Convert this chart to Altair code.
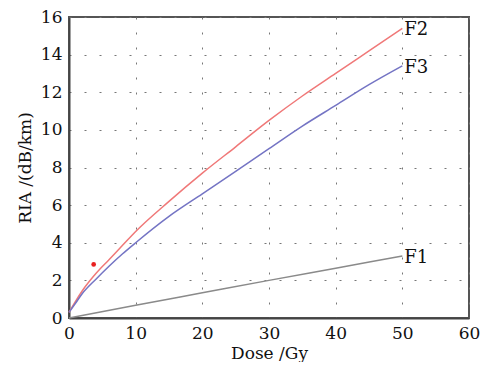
import altair as alt
import pandas as pd

dose_f2 = [0, 1, 2, 4, 6, 8, 10, 15, 20, 25, 30, 35, 40, 45, 50]
ria_f2 = [0.3, 0.9, 1.45, 2.35, 3.1, 3.85, 4.6, 6.2, 7.7, 9.1, 10.5, 11.8, 13.0, 14.2, 15.4]
dose_f3 = [0, 1, 2, 4, 6, 8, 10, 15, 20, 25, 30, 35, 40, 45, 50]
ria_f3 = [0.3, 0.8, 1.3, 2.05, 2.75, 3.4, 4.0, 5.4, 6.6, 7.8, 9.0, 10.2, 11.3, 12.4, 13.4]
dose_f1 = [0, 10, 20, 30, 40, 50]
ria_f1 = [0.0, 0.68, 1.34, 2.0, 2.65, 3.3]
series_names = ["F1", "F2", "F3"]
series_colors = ["#8a8a8a", "#f07878", "#7474c4"]
marker_dose = [3.7]
marker_ria = [2.85]
x_ticks = [0, 10, 20, 30, 40, 50, 60]
y_ticks = [0, 2, 4, 6, 8, 10, 12, 14, 16]

rows = []
for name, xs, ys in [("F1", dose_f1, ria_f1), ("F2", dose_f2, ria_f2), ("F3", dose_f3, ria_f3)]:
    for x, y in zip(xs, ys):
        rows.append({"series": name, "dose": x, "ria": y})
df = pd.DataFrame(rows)
ends = df.loc[df.groupby("series")["dose"].idxmax()].reset_index(drop=True)
marker_df = pd.DataFrame({"dose": marker_dose, "ria": marker_ria})

FONT = "DejaVu Serif"

xscale = alt.Scale(domain=[0, 60], nice=False)
yscale = alt.Scale(domain=[0, 16], nice=False)
xaxis = alt.Axis(values=x_ticks, title="Dose /Gy", format="d",
                 labelFlush=False, labelOverlap=False)
yaxis = alt.Axis(values=y_ticks, title="RIA /(dB/km)", format="d",
                 labelFlush=False, labelOverlap=False)
color = alt.Color("series:N", scale=alt.Scale(domain=series_names, range=series_colors), legend=None)

X = alt.X("dose:Q", scale=xscale, axis=xaxis)
Y = alt.Y("ria:Q", scale=yscale, axis=yaxis)

lines = alt.Chart(df).mark_line(strokeWidth=1.5, interpolate="monotone").encode(
    x=X, y=Y, color=color, detail="series:N",
)

labels = alt.Chart(ends).mark_text(
    align="left", baseline="middle", dx=2, dy=2, font=FONT, fontSize=18, color="#111"
).encode(x=X, y=Y, text="series:N")

marker = alt.Chart(marker_df).mark_point(filled=True, size=22, color="#e82020", opacity=1).encode(
    x=X, y=Y,
)

chart = alt.layer(lines, labels, marker).properties(
    width=400,
    height=301,
    autosize=alt.AutoSizeParams(type="none"),
    padding={"left": 61, "top": 9, "right": 15, "bottom": 44},
    background="white",
).configure_view(
    stroke="#555", strokeWidth=2
).configure_axis(
    labelFont=FONT, titleFont=FONT, labelFontSize=17, titleFontSize=17,
    labelColor="#111", titleColor="#111", titleFontWeight="normal",
    domainColor="#444", domainWidth=2, ticks=False,
    grid=True, gridColor="#777", gridDash=[2, 13], gridWidth=1, gridOpacity=1,
    labelPadding=7,
).configure_axisX(titlePadding=4).configure_axisY(titlePadding=6)

chart.save("out.html", embed_options={"renderer": "svg", "actions": False})
